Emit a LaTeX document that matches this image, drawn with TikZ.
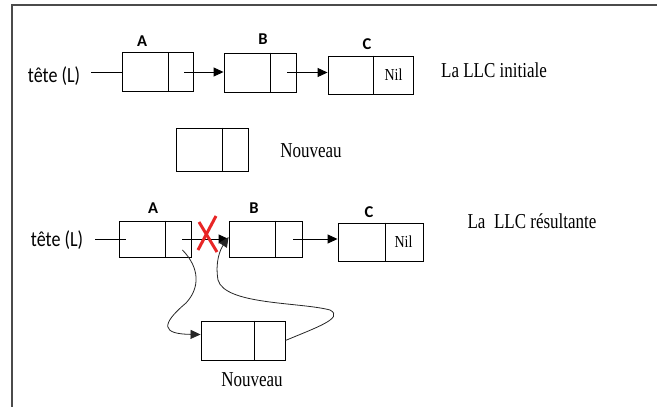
\documentclass[tikz,border=0pt]{standalone}
\usepackage{fontspec}
\setmainfont{Liberation Serif}
\newfontfamily\calibrifont{Carlito}
\usepackage{graphicx}
\usepackage{tikz}
\usetikzlibrary{arrows.meta}
\definecolor{framegray}{RGB}{75,75,75}
\definecolor{crossred}{RGB}{232,38,38}
\newcommand{\llcnode}[5] {\node at (#1) (#2) [draw, rectangle, line width=0.9pt, minimum width=#3, minimum height=#4, inner sep=0pt] {}; \draw [line width=0.9pt] ([xshift=#5]#2.north west) -- ([xshift=#5]#2.south west);}
\newcommand{\llclabel}[3] {\node at (#1) (#2) [inner sep=1pt] {\calibrifont\bfseries\fontsize{16.5}{18}\selectfont #3};}
\newcommand{\llctext}[3] {\node at (#1) (#2) [inner sep=1pt] {\scalebox{1}[1.25]{\fontsize{17}{20}\selectfont #3}};}
\newcommand{\llcpointer}[2] {\draw [line width=0.9pt, -{Triangle[length=10pt,width=9pt]}] ([xshift=-9pt]#1.east) -- (#2.west |- #1.east);}

\begin{document}
\begin{tikzpicture}[x=1pt, y=-1pt]

\useasboundingbox (0,0) rectangle (657,407);
\draw [framegray, line width=2pt] (12,407) -- (12,5) -- (657,5);

% la LLC initiale
\node at (54,76) (tete1) [inner sep=6pt] {\scalebox{1}[1.2]{\calibrifont\fontsize{18}{20}\selectfont tête (L)}};
\llcnode {157.5,72}{A1}{71pt}{39pt}{47pt}
\llcnode {260,72.5}{B1}{72pt}{39pt}{47pt}
\llcnode {370.5,75}{C1}{85pt}{38pt}{46pt}
\llclabel {142,41.5}{labA1}{A}
\llclabel {263,39}{labB1}{B}
\llclabel {367,44}{labC1}{C}
\node at ([xshift=-20pt]C1.east) (nil1) [inner sep=0pt] {\scalebox{1}[1.2]{\fontsize{14}{16}\selectfont Nil}};
\llctext {494,70.5}{initiale}{La LLC initiale}

\draw [line width=0.9pt] ([xshift=5pt]tete1.east |- A1.west) -- (A1.west);
\llcpointer{A1}{B1}
\llcpointer{B1}{C1}

% le nouveau maillon
\llcnode {212,149.5}{N1}{72pt}{43pt}{47pt}
\llctext {311,150.5}{nouveau1}{Nouveau}

% la LLC resultante
\node at (57,240) (tete2) [inner sep=6pt] {\scalebox{1}[1.2]{\calibrifont\fontsize{18}{20}\selectfont tête (L)}};
\llcnode {155,239}{A2}{72pt}{36pt}{47pt}
\llcnode {265.5,239}{B2}{73pt}{36pt}{47pt}
\llcnode {380.5,242}{C2}{85pt}{38pt}{48pt}
\llclabel {153,208}{labA2}{A}
\llclabel {254,208}{labB2}{B}
\llclabel {369,212.5}{labC2}{C}
\node at ([xshift=-20pt]C2.east) (nil2) [inner sep=0pt] {\scalebox{1}[1.2]{\fontsize{14}{16}\selectfont Nil}};
\llctext {532,221.5}{resultante}{La\ \ LLC résultante}

\llcnode {243,340.5}{N2}{84pt}{39pt}{54pt}
\llctext {252,380}{nouveau2}{Nouveau}

\draw [line width=0.9pt] ([xshift=6pt]tete2.east |- A2.west) -- ([xshift=7pt]A2.west);
\llcpointer{A2}{B2}
\llcpointer{B2}{C2}

% lien coupe
\draw [crossred, line width=3pt] (199,222) -- (217,252);
\draw [crossred, line width=3pt] (216,216) -- (198,250);

% nouveaux liens
\draw [line width=0.8pt, black!85, -{Triangle[length=10pt,width=9pt]}] ([xshift=-9pt,yshift=-11pt]A2.east) .. controls (200,268) and (200,288) .. (186,303) .. controls (160,325) and (162,334) .. ([yshift=6pt]N2.west);
\draw [line width=0.8pt, black!85, -{Triangle[length=10pt,width=9pt]}] (N2.east) .. controls (315,328) and (345,318) .. (330,310) .. controls (300,302) and (225,305) .. (218,280) .. controls (215,262) and (220,250) .. ([yshift=2pt]B2.west);

\end{tikzpicture}
\end{document}
